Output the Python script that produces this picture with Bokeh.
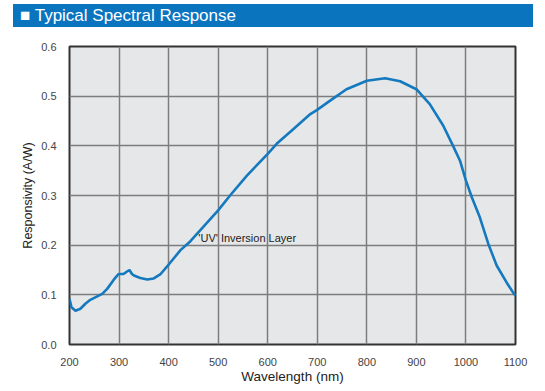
from bokeh.plotting import figure
from bokeh.layouts import column
from bokeh.models import FixedTicker, PrintfTickFormatter, Label, Div
from bokeh.embed import file_html
from bokeh.resources import INLINE

title_text = "■ Typical Spectral Response"
x_label = "Wavelength (nm)"
y_label = "Responsivity (A/W)"
note_text = "'UV' Inversion Layer"
y_ticks = [0.0, 0.1, 0.2, 0.3, 0.4, 0.5, 0.6]
x_ticks = [200, 300, 400, 500, 600, 700, 800, 900, 1000, 1100]

wavelength = [200, 204, 212, 222, 232, 242, 252, 266, 276, 289, 299, 309, 316, 321, 326,
              330, 343, 357, 370, 383, 401, 424, 444, 500, 524, 558, 600, 618, 652, 686,
              699, 726, 759, 800, 837, 867, 900, 927, 954, 974, 988, 1000, 1012, 1028,
              1045, 1062, 1082, 1097, 1100]
responsivity = [0.092, 0.075, 0.068, 0.072, 0.082, 0.090, 0.095, 0.102, 0.112, 0.130,
                0.142, 0.142, 0.147, 0.150, 0.142, 0.139, 0.134, 0.131, 0.133, 0.141,
                0.162, 0.190, 0.208, 0.270, 0.300, 0.340, 0.384, 0.404, 0.434, 0.464,
                0.472, 0.491, 0.514, 0.531, 0.536, 0.530, 0.514, 0.484, 0.441, 0.400,
                0.370, 0.330, 0.296, 0.256, 0.203, 0.159, 0.125, 0.102, 0.098]

FONT = "Liberation Sans"

header = Div(
    text=('<div style="padding:4px 0 0 13px;">'
          '<div style="box-sizing:border-box;width:520px;height:23px;padding-left:7px;'
          'background:#0a74bf;color:#ffffff;'
          "font-family:'Liberation Sans',Arial,sans-serif;font-size:17px;line-height:23px;"
          'white-space:nowrap;">' + title_text + '</div></div>'),
    width=545, height=27, margin=0)

p = figure(width=545, height=364, x_range=(200, 1100), y_range=(0, 0.6),
           output_backend="svg", toolbar_location=None, margin=0,
           min_border_left=69, min_border_right=30, min_border_top=19, min_border_bottom=47)
p.background_fill_color = "#e6e7e9"
p.border_fill_color = "white"
p.outline_line_color = "#333333"
p.outline_line_width = 2

p.xaxis.ticker = FixedTicker(ticks=x_ticks)
p.yaxis.ticker = FixedTicker(ticks=y_ticks)
p.yaxis.formatter = PrintfTickFormatter(format="%.1f")
for ax in (p.xaxis, p.yaxis):
    ax.axis_line_color = None
    ax.major_tick_line_color = None
    ax.minor_tick_line_color = None
    ax.major_label_text_font = FONT
    ax.major_label_text_font_size = "11px"
    ax.major_label_text_color = "#444444"
    ax.axis_label_text_font = FONT
    ax.axis_label_text_font_style = "normal"
    ax.axis_label_text_color = "#222222"
p.xaxis.axis_label = x_label
p.yaxis.axis_label = y_label
p.xaxis.axis_label_text_font_size = "13.5px"
p.yaxis.axis_label_text_font_size = "12.5px"
p.xaxis.major_label_standoff = 7
p.yaxis.major_label_standoff = 7
p.xaxis.axis_label_standoff = 0
p.yaxis.axis_label_standoff = 3

p.grid.grid_line_color = "#7d7d7d"
p.grid.grid_line_width = 1.5
p.xgrid.ticker = FixedTicker(ticks=x_ticks)
p.ygrid.ticker = FixedTicker(ticks=y_ticks)

p.line(wavelength, responsivity, line_color="#1479be", line_width=2.6)

p.add_layout(Label(x=460, y=0.215, text=note_text, text_font=FONT, text_font_size="11px",
                   text_color="#222222", text_baseline="middle", text_align="left"))

layout = column(header, p, spacing=0)
open("out.html", "w").write(file_html(layout, INLINE))
